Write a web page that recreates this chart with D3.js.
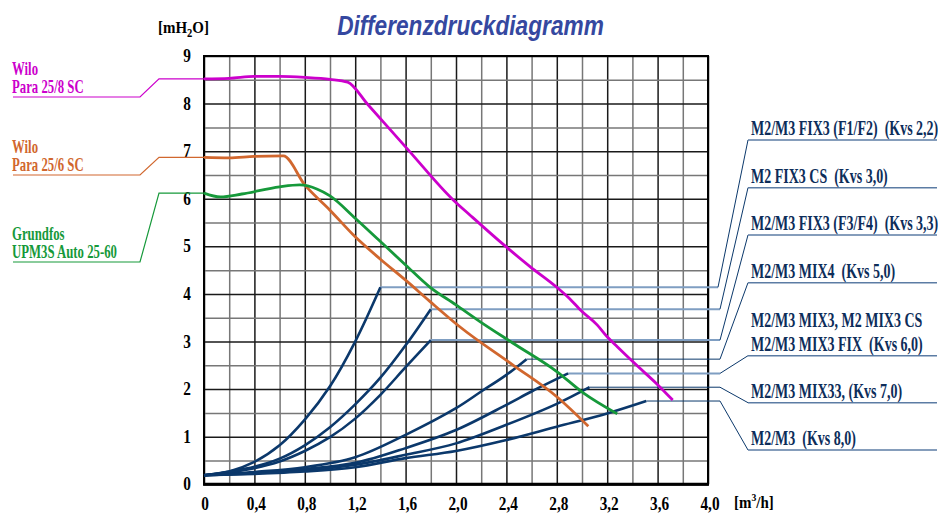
<!DOCTYPE html>
<html>
<head>
<meta charset="utf-8">
<script src="https://cdn.jsdelivr.net/npm/d3@7"></script>
<style>
    body { margin: 0; background: #fff; }
    text { font-family: 'Liberation Serif', 'Times New Roman', serif; font-weight: bold; white-space: pre; }
</style>
</head>
<body>
<div id="chart"></div>
<script>
// axis ticks
const xTicks = [0, 0.4, 0.8, 1.2, 1.6, 2.0, 2.4, 2.8, 3.2, 3.6, 4.0],
    xTickLabels = ['0', '0,4', '0,8', '1,2', '1,6', '2,0', '2,4', '2,8', '3,2', '3,6', '4,0'],
    yTicks = [0, 1, 2, 3, 4, 5, 6, 7, 8, 9];

// pump curves
const pumpNames = [['Wilo', 'Para 25/8 SC'], ['Wilo', 'Para 25/6 SC'], ['Grundfos', 'UPM3S Auto 25-60']];
const wilo8Q = [0, 0.2, 0.4, 0.6, 0.8, 1.0, 1.14, 1.3, 1.61, 1.98, 2.11, 2.38, 2.59, 2.8, 2.89, 3.0, 3.12, 3.2, 3.28, 3.43, 3.59, 3.72],
    wilo8H = [8.52, 8.53, 8.57, 8.57, 8.55, 8.51, 8.45, 7.98, 7.06, 5.97, 5.66, 5.03, 4.57, 4.14, 3.93, 3.63, 3.35, 3.10, 2.89, 2.51, 2.12, 1.77];
const wilo6Q = [0, 0.2, 0.4, 0.63, 0.8, 1.0, 1.2, 1.4, 1.6, 1.79, 2.03, 2.45, 2.8, 3.05],
    wilo6H = [6.87, 6.86, 6.89, 6.9, 6.29, 5.76, 5.20, 4.73, 4.29, 3.85, 3.31, 2.51, 1.84, 1.22];
const grundfosQ = [0, 0.13, 0.3, 0.6, 0.76, 0.9, 1.0, 1.2, 1.4, 1.6, 1.79, 2.0, 2.19, 2.45, 2.8, 3.01, 3.28],
    grundfosH = [6.12, 6.04, 6.1, 6.25, 6.29, 6.2, 6.06, 5.59, 5.10, 4.61, 4.15, 3.77, 3.42, 2.97, 2.37, 1.92, 1.48];

// valve curves
const valveNames = [
    ['M2/M3 FIX3 (F1/F2)  (Kvs 2,2)'],
    ['M2 FIX3 CS  (Kvs 3,0)'],
    ['M2/M3 FIX3 (F3/F4)  (Kvs 3,3)'],
    ['M2/M3 MIX4  (Kvs 5,0)'],
    ['M2/M3 MIX3, M2 MIX3 CS', 'M2/M3 MIX3 FIX  (Kvs 6,0)'],
    ['M2/M3 MIX33, (Kvs 7,0)'],
    ['M2/M3  (Kvs 8,0)']
];
const kvs22Q = [0, 0.2, 0.4, 0.6, 0.8, 1.0, 1.2, 1.4],
    kvs22H = [0.19, 0.27, 0.47, 0.82, 1.36, 2.06, 3.0, 4.14];
const kvs30Q = [0, 0.2, 0.4, 0.6, 0.8, 1.0, 1.2, 1.4, 1.6, 1.8],
    kvs30H = [0.19, 0.27, 0.37, 0.54, 0.82, 1.2, 1.68, 2.24, 2.92, 3.68];
const kvs33Q = [0, 0.2, 0.4, 0.6, 0.8, 1.0, 1.2, 1.4, 1.6, 1.8],
    kvs33H = [0.19, 0.25, 0.34, 0.48, 0.7, 0.99, 1.38, 1.88, 2.46, 3.03];
const kvs50Q = [0, 0.4, 0.8, 1.2, 1.6, 2.0, 2.2, 2.4, 2.56],
    kvs50H = [0.19, 0.26, 0.36, 0.57, 1.04, 1.6, 1.95, 2.3, 2.63];
const kvs60Q = [0, 0.4, 0.8, 1.2, 1.6, 2.0, 2.4, 2.6, 2.89],
    kvs60H = [0.19, 0.24, 0.32, 0.45, 0.76, 1.14, 1.67, 1.95, 2.33];
const kvs70Q = [0, 0.4, 0.8, 1.2, 1.6, 2.0, 2.4, 2.8, 3.06],
    kvs70H = [0.19, 0.23, 0.29, 0.41, 0.62, 0.86, 1.25, 1.69, 2.04];
const kvs80Q = [0, 0.4, 0.8, 1.2, 1.6, 2.0, 2.4, 2.8, 3.2, 3.51],
    kvs80H = [0.19, 0.22, 0.27, 0.36, 0.55, 0.7, 0.93, 1.21, 1.49, 1.75];

const W = 938, H = 514,
    navy = '#0b386b',
    leaderLight = '#7f9ec2',
    pumpColors = ['#cc00cc', '#d1672e', '#16993a'];

const pumps = [[wilo8Q, wilo8H], [wilo6Q, wilo6H], [grundfosQ, grundfosH]]
    .map(([q, h], i) => ({ name: pumpNames[i], pts: q.map((v, j) => [v, h[j]]), color: pumpColors[i] }));
const valves = [[kvs22Q, kvs22H], [kvs30Q, kvs30H], [kvs33Q, kvs33H], [kvs50Q, kvs50H], [kvs60Q, kvs60H], [kvs70Q, kvs70H], [kvs80Q, kvs80H]]
    .map(([q, h], i) => ({ name: valveNames[i], pts: q.map((v, j) => [v, h[j]]) }));

const svg = d3.select('#chart')
    .append('svg')
        .attr('width', W)
        .attr('height', H);

const x = d3.scaleLinear().domain([0, 4]).range([204, 708]),
    y = d3.scaleLinear().domain([0, 9]).range([484.3, 56]);

function label(g, txt, tx, ty, size, sx, color, anchor) {
    return g.append('text')
        .attr('transform', `translate(${tx},${ty}) scale(${sx},1)`)
        .attr('font-size', size)
        .attr('fill', color)
        .attr('text-anchor', anchor || 'start')
        .text(txt);
}

// grid
svg.append('g')
    .attr('transform', `translate(0,${y(0)})`)
    .call(d3.axisBottom(x).tickValues(d3.range(0, 20.5).map(i => i * 0.2)).tickSize(-(y(0) - y(9))).tickFormat(''))
    .call(g => g.select('.domain').remove())
    .call(g => g.selectAll('line').attr('stroke', (d, i) => i % 2 ? '#777' : '#1a1a1a').attr('stroke-width', 1.5));
svg.append('g')
    .attr('transform', `translate(${x(0)},0)`)
    .call(d3.axisLeft(y).tickValues(d3.range(0, 18.5).map(i => i * 0.5)).tickSize(-(x(4) - x(0))).tickFormat(''))
    .call(g => g.select('.domain').remove())
    .call(g => g.selectAll('line').attr('stroke', (d, i) => i % 2 ? '#777' : '#1a1a1a').attr('stroke-width', 1.5));

svg.append('rect')
    .attr('x', x(0)).attr('y', y(9))
    .attr('width', x(4) - x(0)).attr('height', y(0) - y(9))
    .attr('fill', 'none').attr('stroke', '#000').attr('stroke-width', 2);
svg.append('line')
    .attr('x1', x(0) - 1).attr('x2', x(4) + 1).attr('y1', y(0)).attr('y2', y(0))
    .attr('stroke', '#000').attr('stroke-width', 3);

// tick labels
xTicks.forEach((d, i) => label(svg, xTickLabels[i], x(d) + (i ? 2 : 1), 510, 18, 0.85, '#000', 'middle'));
yTicks.forEach(d => label(svg, String(d), 191, y(d) + 6, 18, 0.85, '#000', 'end'));

// units
const yUnit = label(svg, '[mH', 158, 33, 17, 0.88, '#000');
yUnit.append('tspan').attr('font-size', 12).attr('dy', 4).text('2');
yUnit.append('tspan').attr('dy', -4).text('O]');
const xUnit = label(svg, '[m', 734, 508, 17, 0.88, '#000');
xUnit.append('tspan').attr('font-size', 11).attr('dy', -7).text('3');
xUnit.append('tspan').attr('dy', 7).text('/h]');

// title
svg.append('text')
    .attr('transform', 'translate(470.5,35) scale(0.84,1)')
    .attr('text-anchor', 'middle')
    .style('font-family', "'Liberation Sans', Arial, sans-serif")
    .style('font-style', 'italic')
    .attr('font-size', 27)
    .attr('fill', '#3548a0')
    .text('Differenzdruckdiagramm');

const valveLine = d3.line()
    .x(d => x(d[0]))
    .y(d => y(d[1]))
    .curve(d3.curveCatmullRom.alpha(0.5));
const pumpLine = d3.line()
    .x(d => x(d[0]))
    .y(d => y(d[1]))
    .curve(d3.curveMonotoneX);

// valve leaders
const valveUnderline = [140, 187.7, 235, 282.7, 355.7, 402.7, 450],
    valveLeaderLight = [true, true, true, false, true, false, false],
    valveLeaderEnd = [718, 720, 720, 720, 720, 720, 720];
valves.forEach((v, i) => {
    const end = v.pts[v.pts.length - 1];
    svg.append('line')
        .attr('x1', x(end[0])).attr('x2', valveLeaderEnd[i])
        .attr('y1', y(end[1])).attr('y2', y(end[1]))
        .attr('stroke', valveLeaderLight[i] ? leaderLight : navy)
        .attr('stroke-width', valveLeaderLight[i] ? 2 : 1);
    svg.append('path')
        .attr('d', d3.line()([[valveLeaderEnd[i], y(end[1])], [748, valveUnderline[i]]]))
        .attr('fill', 'none').attr('stroke', navy).attr('stroke-width', 1);
    svg.append('line')
        .attr('x1', 748).attr('x2', 937)
        .attr('y1', valveUnderline[i]).attr('y2', valveUnderline[i])
        .attr('stroke', '#5c7ca4').attr('stroke-width', 1.6);
    v.name.forEach((t, j) => label(svg, t, 751, valveUnderline[i] - 5 - (v.name.length - 1 - j) * 23.5, 20, 0.7, '#0d2d5a'));
});

// valve curves
svg.append('g')
    .selectAll('path')
    .data(valves)
    .join('path')
        .attr('d', d => valveLine(d.pts))
        .attr('fill', 'none')
        .attr('stroke', navy)
        .attr('stroke-width', 2.6);

// pump curves
const pumpUnderline = [97, 175, 262];
pumps.forEach((p, i) => {
    const start = p.pts[0];
    svg.append('path')
        .attr('d', d3.line()([[13, pumpUnderline[i]], [140, pumpUnderline[i]], [159, y(start[1])], [x(0), y(start[1])]]))
        .attr('fill', 'none').attr('stroke', p.color).attr('stroke-width', 1.2);
    label(svg, p.name[0], 12, pumpUnderline[i] - 22, 18, 0.71, p.color);
    label(svg, p.name[1], 12, pumpUnderline[i] - 4, 18, 0.71, p.color);
    svg.append('path')
        .attr('d', pumpLine(p.pts))
        .attr('fill', 'none')
        .attr('stroke', p.color)
        .attr('stroke-width', 2.8);
});
</script>
</body>
</html>
